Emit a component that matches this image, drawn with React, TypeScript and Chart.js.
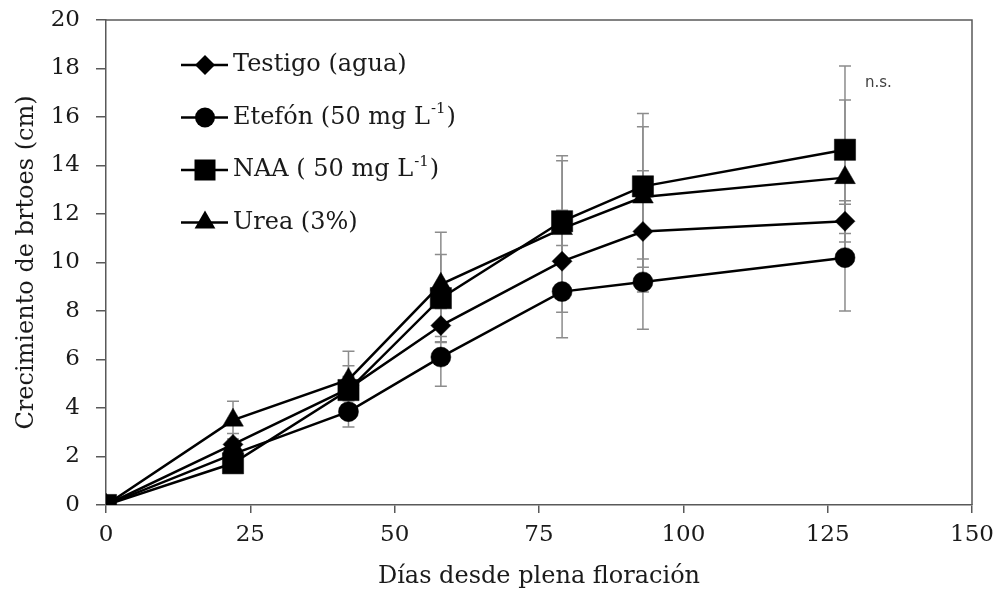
import React, { useEffect, useRef } from 'react';
import { Chart, registerables } from 'chart.js';

Chart.register(...registerables);

// ---- data ----
const days = [0, 22, 42, 58, 79, 93, 128];

const testigo = [0, 2.5, 4.8, 7.4, 10.05, 11.28, 11.7];
const testigoErr = [0, 0.45, 0.5, 0.7, 2.1, 2.5, 0.85];

const etefon = [0, 2.1, 3.85, 6.1, 8.8, 9.2, 10.2];
const etefonErr = [0, 0.3, 0.63, 1.2, 1.9, 1.95, 2.2];

const naa = [0, 1.72, 4.74, 8.53, 11.7, 13.14, 14.65];
const naaErr = [0, 0.3, 1.0, 1.8, 2.7, 3.0, 3.45];

const urea = [0, 3.5, 5.17, 9.1, 11.4, 12.7, 13.5];
const ureaErr = [0, 0.78, 1.17, 2.15, 2.8, 2.9, 3.2];

const xTickValues = [0, 25, 50, 75, 100, 125, 150];
const yTickValues = [0, 2, 4, 6, 8, 10, 12, 14, 16, 18, 20];

const seriesNames = ['Testigo (agua)', 'Etefón (50 mg L', 'NAA ( 50 mg L', 'Urea (3%)'];
const seriesSup = ['', '-1', '-1', ''];
const seriesTail = ['', ')', ')', ''];
const seriesShapes = ['diamond', 'circle', 'square', 'triangle'];

const xTitle = 'Días desde plena floración';
const yTitle = 'Crecimiento de brtoes (cm)';
const nsLabel = 'n.s.';

const SERIF = '"DejaVu Serif", serif';
const AXIS_COLOR = '#595959';
const TEXT_COLOR = '#1a1a1a';

function drawShape(ctx: CanvasRenderingContext2D, shape: string, cx: number, cy: number) {
  ctx.beginPath();
  if (shape === 'diamond') {
    const r = 10;
    ctx.moveTo(cx, cy - r);
    ctx.lineTo(cx + r, cy);
    ctx.lineTo(cx, cy + r);
    ctx.lineTo(cx - r, cy);
    ctx.closePath();
  } else if (shape === 'circle') {
    ctx.arc(cx, cy, 10, 0, Math.PI * 2);
  } else if (shape === 'square') {
    ctx.rect(cx - 10.5, cy - 10.5, 21, 21);
  } else {
    const r = 12;
    ctx.moveTo(cx, cy - r);
    ctx.lineTo(cx + r * Math.sin(Math.PI / 3), cy + r / 2);
    ctx.lineTo(cx - r * Math.sin(Math.PI / 3), cy + r / 2);
    ctx.closePath();
  }
  ctx.fill();
}

export default function App() {
  const canvasRef = useRef<HTMLCanvasElement | null>(null);

  useEffect(() => {
    const canvas = canvasRef.current;
    if (!canvas) return;

    const errs = [testigoErr, etefonErr, naaErr, ureaErr];

    const errorBars = {
      id: 'errorBars',
      beforeDatasetsDraw(chart: any) {
        const ctx = chart.ctx;
        const xs = chart.scales.x;
        const ys = chart.scales.y;
        ctx.save();
        ctx.strokeStyle = '#8c8c8c';
        ctx.lineWidth = 1.5;
        chart.data.datasets.forEach((ds: any, di: number) => {
          ds.data.forEach((p: any, i: number) => {
            const e = errs[di][i];
            if (!e) return;
            const x = xs.getPixelForValue(p.x);
            const yt = ys.getPixelForValue(p.y + e);
            const yb = ys.getPixelForValue(p.y - e);
            ctx.beginPath();
            ctx.moveTo(x, yt);
            ctx.lineTo(x, yb);
            ctx.moveTo(x - 6, yt);
            ctx.lineTo(x + 6, yt);
            ctx.moveTo(x - 6, yb);
            ctx.lineTo(x + 6, yb);
            ctx.stroke();
          });
        });
        ctx.restore();
      },
    };

    const frameAndLegend = {
      id: 'frameAndLegend',
      afterDraw(chart: any) {
        const ctx = chart.ctx;
        const a = chart.chartArea;
        ctx.save();
        // top and right frame
        ctx.strokeStyle = AXIS_COLOR;
        ctx.lineWidth = 1.5;
        ctx.beginPath();
        ctx.moveTo(a.left, a.top);
        ctx.lineTo(a.right, a.top);
        ctx.lineTo(a.right, a.bottom);
        ctx.stroke();

        // legend
        const lx0 = a.left + 75;
        const lx1 = a.left + 122;
        const mx = a.left + 99;
        const tx = a.left + 127;
        seriesNames.forEach((name, i) => {
          const cy = a.top + 45 + i * 52.5;
          ctx.strokeStyle = '#000';
          ctx.lineWidth = 2.5;
          ctx.beginPath();
          ctx.moveTo(lx0, cy);
          ctx.lineTo(lx1, cy);
          ctx.stroke();
          ctx.fillStyle = '#000';
          drawShape(ctx, seriesShapes[i], mx, cy);

          ctx.fillStyle = TEXT_COLOR;
          ctx.textBaseline = 'middle';
          ctx.textAlign = 'left';
          ctx.font = '24px ' + SERIF;
          ctx.fillText(name, tx, cy);
          let w = ctx.measureText(name).width;
          if (seriesSup[i]) {
            ctx.font = '15px ' + SERIF;
            ctx.fillText(seriesSup[i], tx + w + 1, cy - 8);
            w += ctx.measureText(seriesSup[i]).width + 2;
            ctx.font = '24px ' + SERIF;
            ctx.fillText(seriesTail[i], tx + w, cy);
          }
        });

        // n.s. label
        ctx.fillStyle = '#404040';
        ctx.font = '15px "DejaVu Sans", sans-serif';
        ctx.textAlign = 'left';
        ctx.textBaseline = 'middle';
        const nx = chart.scales.x.getPixelForValue(days[days.length - 1]) + 20;
        const ny = chart.scales.y.getPixelForValue(17.4);
        ctx.fillText(nsLabel, nx, ny);
        ctx.restore();
      },
    };

    const mk = (label: string, ys: number[], style: string, radius: number) => ({
      label,
      data: days.map((d, i) => ({ x: d, y: ys[i] })),
      borderColor: '#000',
      backgroundColor: '#000',
      borderWidth: 2.5,
      pointStyle: style,
      pointRadius: radius,
      pointHoverRadius: radius,
      pointBackgroundColor: '#000',
      pointBorderColor: '#000',
      pointBorderWidth: 0.5,
      tension: 0,
      fill: false,
    });

    const chart = new Chart(canvas, {
      type: 'line',
      data: {
        datasets: [
          mk(seriesNames[0], testigo, 'rectRot', 10),
          mk(seriesNames[1], etefon, 'circle', 10),
          mk(seriesNames[2], naa, 'rect', 15),
          mk(seriesNames[3], urea, 'triangle', 12),
        ],
      },
      options: {
        animation: false,
        responsive: true,
        maintainAspectRatio: false,
        layout: { padding: { top: 20, right: 33, left: 0, bottom: 0 } },
        plugins: {
          legend: { display: false },
          tooltip: { enabled: false },
        },
        scales: {
          x: {
            type: 'linear',
            min: 0,
            max: 150,
            afterBuildTicks: (s: any) => {
              s.ticks = xTickValues.map((v) => ({ value: v }));
            },
            afterFit: (s: any) => {
              s.height = 91;
            },
            ticks: {
              color: TEXT_COLOR,
              font: { family: SERIF, size: 23 },
              padding: 8,
              maxRotation: 0,
            },
            grid: {
              drawOnChartArea: false,
              drawTicks: true,
              tickLength: 8,
              color: AXIS_COLOR,
              lineWidth: 1.5,
            },
            border: { color: AXIS_COLOR, width: 1.5 },
            title: {
              display: true,
              text: xTitle,
              color: TEXT_COLOR,
              font: { family: SERIF, size: 24 },
              padding: { top: 4, bottom: 5 },
            },
          },
          y: {
            type: 'linear',
            min: 0,
            max: 20,
            afterBuildTicks: (s: any) => {
              s.ticks = yTickValues.map((v) => ({ value: v }));
            },
            afterFit: (s: any) => {
              s.width = 106;
              s.paddingTop = 4;
              s.paddingBottom = 4;
            },
            ticks: {
              color: TEXT_COLOR,
              font: { family: SERIF, size: 23 },
              padding: 16,
            },
            grid: {
              drawOnChartArea: false,
              drawTicks: true,
              tickLength: 10,
              color: AXIS_COLOR,
              lineWidth: 1.5,
            },
            border: { color: AXIS_COLOR, width: 1.5 },
            title: {
              display: true,
              text: yTitle,
              color: TEXT_COLOR,
              font: { family: SERIF, size: 24 },
              padding: { top: 12, bottom: 4 },
            },
          },
        },
      },
      plugins: [errorBars, frameAndLegend],
    } as any);

    return () => {
      chart.destroy();
    };
  }, []);

  return (
    <div style={{ position: 'fixed', left: 0, top: 0, width: '1005px', height: '596px', background: '#fff' }}>
      <canvas ref={canvasRef} />
    </div>
  );
}
